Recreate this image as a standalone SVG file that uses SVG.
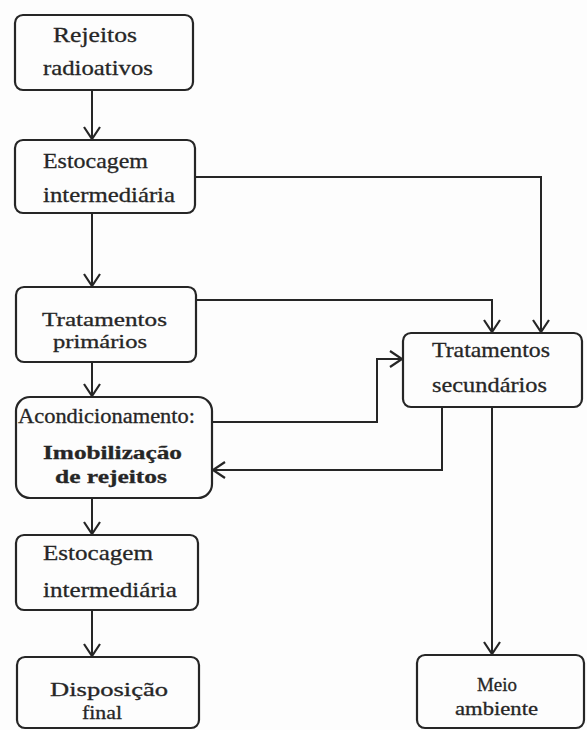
<svg xmlns="http://www.w3.org/2000/svg" width="587" height="730" viewBox="0 0 587 730">
<style>
.box{fill:none;stroke:#262626;stroke-width:2.2}
.t{font-family:"Liberation Serif","Times New Roman",serif;font-size:22px;fill:#262626;stroke:#262626;stroke-width:0.3}
.k{font-size:19px}
.s{font-size:20px}
.b{font-weight:bold}
.c{fill:none;stroke:#262626;stroke-width:2}
</style>
<defs>
<marker id="ah" viewBox="-14 -9 16 18" refX="0" refY="0" markerWidth="16" markerHeight="18" markerUnits="userSpaceOnUse" orient="auto">
<path d="M-12,-8 L0,0 L-12,8" fill="none" stroke="#262626" stroke-width="2.2"/>
</marker>
</defs>
<rect width="587" height="730" fill="#fdfdfd"/>
<g id="connectors">
<path class="c" d="M92,90 V139" marker-end="url(#ah)"/>
<path class="c" d="M92,213 V286" marker-end="url(#ah)"/>
<path class="c" d="M92,362 V396" marker-end="url(#ah)"/>
<path class="c" d="M92,498 V534" marker-end="url(#ah)"/>
<path class="c" d="M92,610 V656" marker-end="url(#ah)"/>
<path class="c" d="M195,177 H541 V332" marker-end="url(#ah)"/>
<path class="c" d="M196,300 H492 V332" marker-end="url(#ah)"/>
<path class="c" d="M212,422 H377 V359 H402" marker-end="url(#ah)"/>
<path class="c" d="M442,408 V470 H213" marker-end="url(#ah)"/>
<path class="c" d="M492,408 V654" marker-end="url(#ah)"/>
</g>
<g id="n1">
<rect class="box" x="15" y="15" width="178" height="75" rx="8"/>
<text class="t" x="53" y="42" textLength="84" lengthAdjust="spacingAndGlyphs">Rejeitos</text>
<text class="t" x="43" y="75" textLength="110" lengthAdjust="spacingAndGlyphs">radioativos</text>
</g>
<g id="n2">
<rect class="box" x="15" y="140" width="180" height="73" rx="8"/>
<text class="t" x="43" y="168" textLength="105" lengthAdjust="spacingAndGlyphs">Estocagem</text>
<text class="t" x="43" y="202" textLength="132" lengthAdjust="spacingAndGlyphs">intermediária</text>
</g>
<g id="n3">
<rect class="box" x="16" y="287" width="180" height="75" rx="8"/>
<text class="t k" x="42" y="326" textLength="125" lengthAdjust="spacingAndGlyphs">Tratamentos</text>
<text class="t k" x="53" y="348" textLength="94" lengthAdjust="spacingAndGlyphs">primários</text>
</g>
<g id="n4">
<rect class="box" x="16" y="397" width="196" height="101" rx="14"/>
<text class="t s" x="18" y="423" textLength="177" lengthAdjust="spacingAndGlyphs">Acondicionamento:</text>
<text class="t k b" x="43" y="459" textLength="139" lengthAdjust="spacingAndGlyphs">Imobilização</text>
<text class="t k b" x="55" y="483" textLength="112" lengthAdjust="spacingAndGlyphs">de rejeitos</text>
</g>
<g id="n5">
<rect class="box" x="16" y="535" width="182" height="75" rx="8"/>
<text class="t" x="43" y="560" textLength="110" lengthAdjust="spacingAndGlyphs">Estocagem</text>
<text class="t" x="43" y="597" textLength="134" lengthAdjust="spacingAndGlyphs">intermediária</text>
</g>
<g id="n6">
<rect class="box" x="17" y="657" width="182" height="71" rx="8"/>
<text class="t k" x="50" y="696" textLength="118" lengthAdjust="spacingAndGlyphs">Disposição</text>
<text class="t k" x="82" y="719" textLength="40" lengthAdjust="spacingAndGlyphs">final</text>
</g>
<g id="n7">
<rect class="box" x="403" y="333" width="179" height="74" rx="8"/>
<text class="t" x="432" y="357" textLength="118" lengthAdjust="spacingAndGlyphs">Tratamentos</text>
<text class="t" x="432" y="392" textLength="115" lengthAdjust="spacingAndGlyphs">secundários</text>
</g>
<g id="n8">
<rect class="box" x="417" y="655" width="167" height="73" rx="8"/>
<text class="t k" x="477" y="691" textLength="40" lengthAdjust="spacingAndGlyphs">Meio</text>
<text class="t k" x="455" y="715" textLength="83" lengthAdjust="spacingAndGlyphs">ambiente</text>
</g>
</svg>
